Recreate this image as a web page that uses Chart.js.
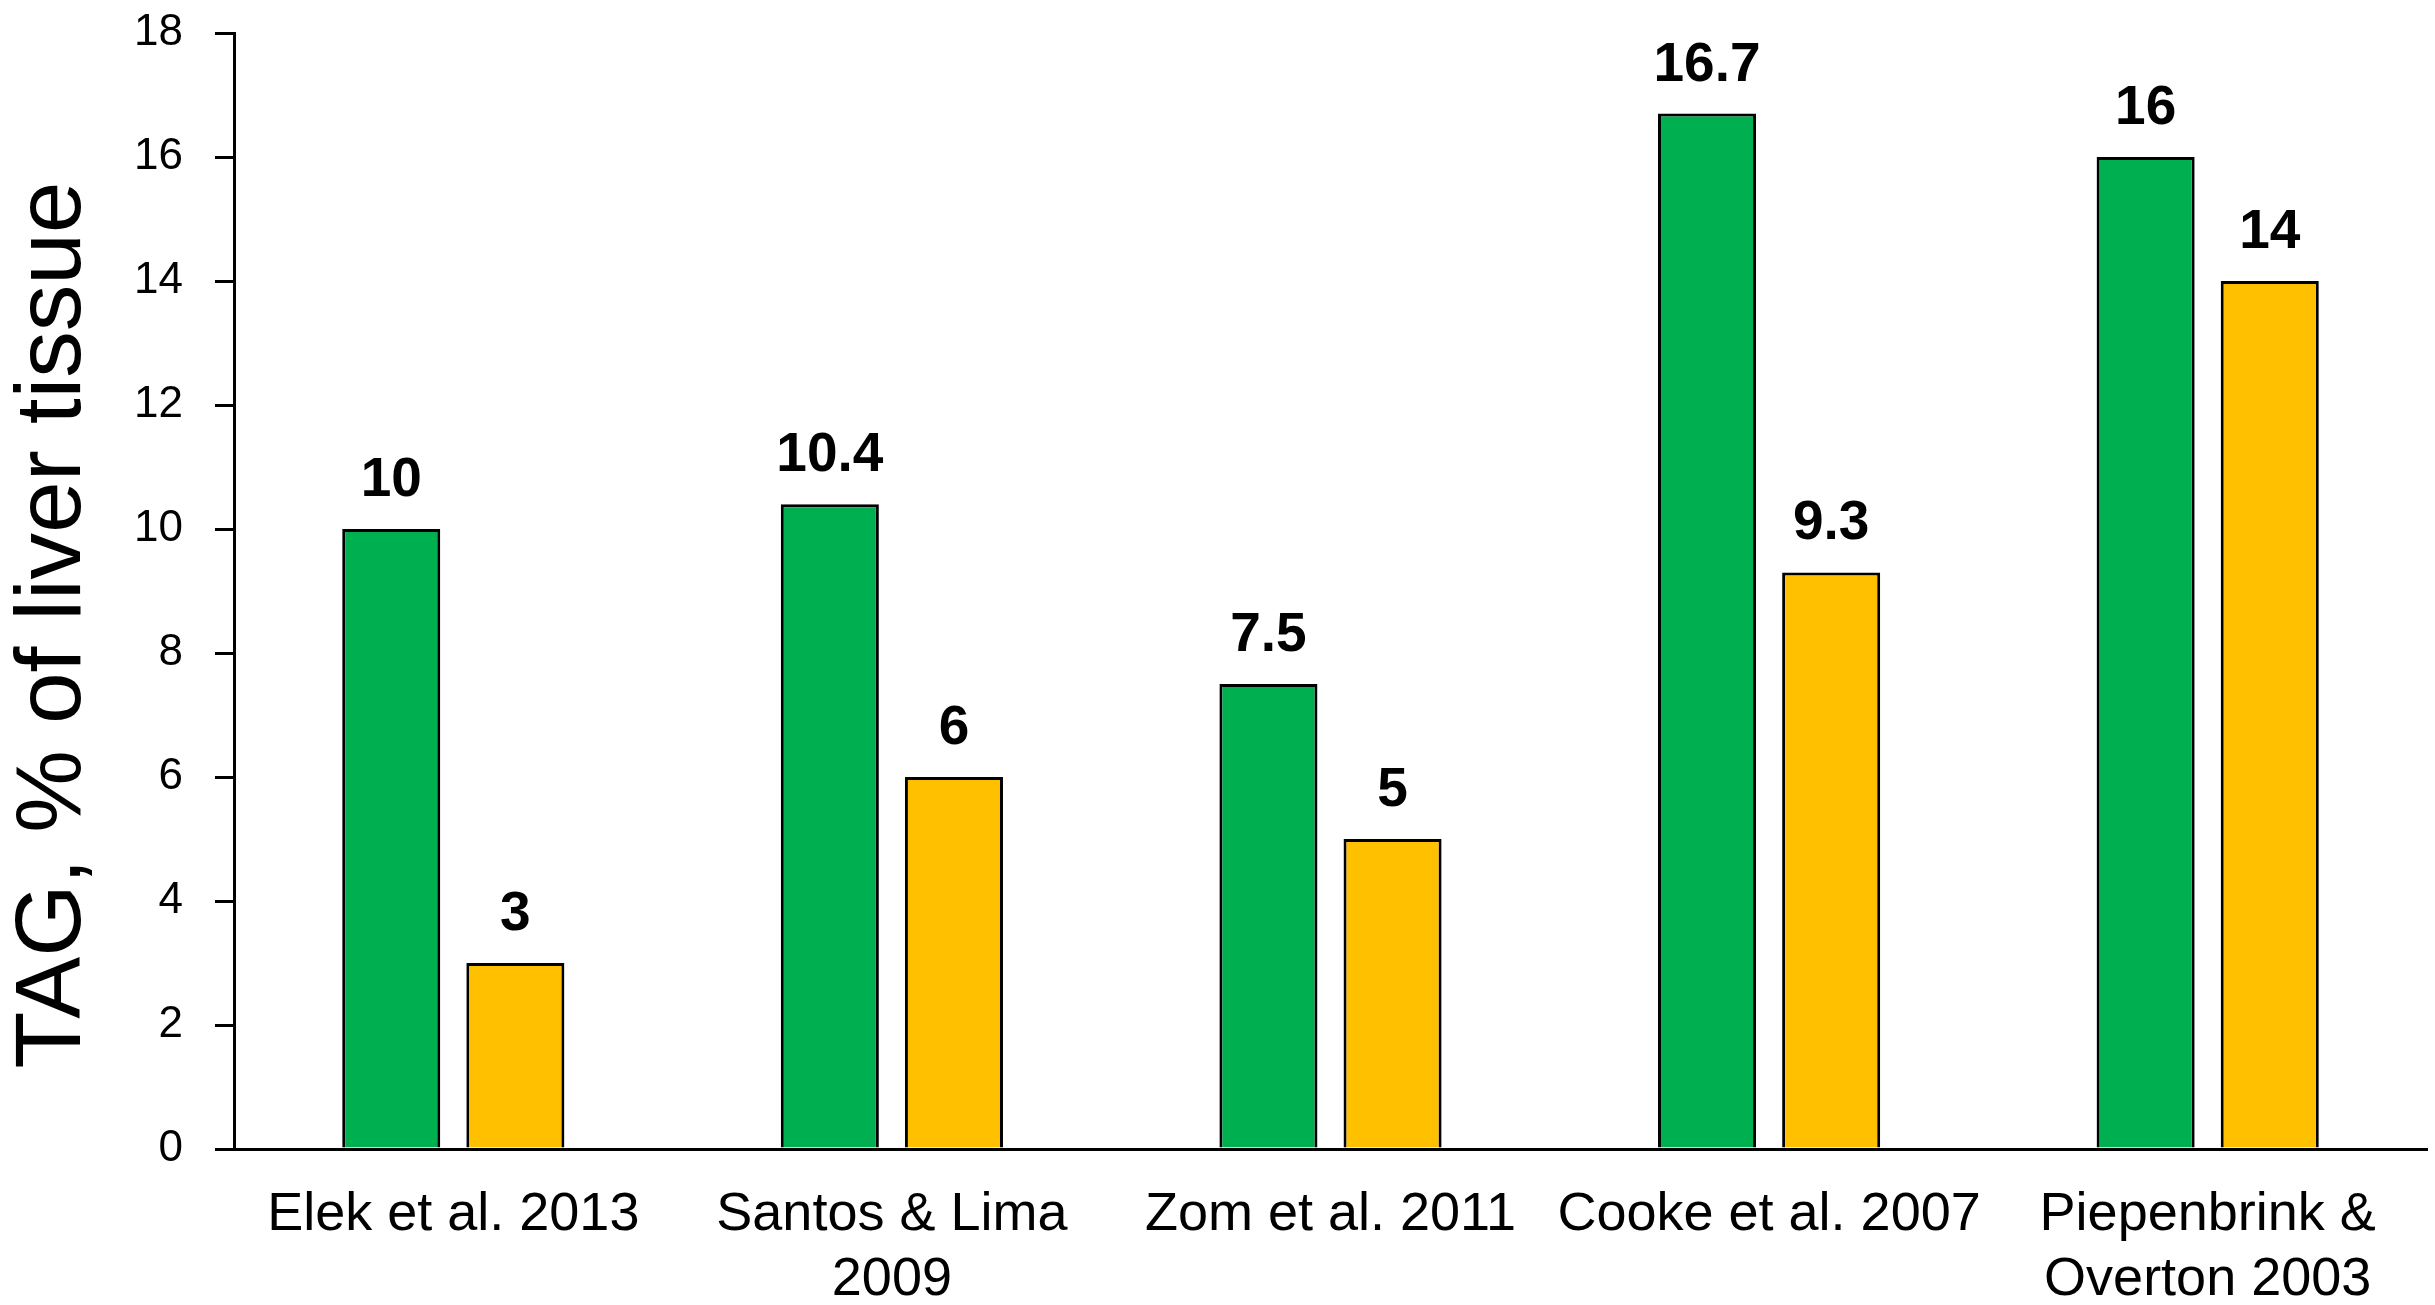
<!DOCTYPE html>
<html>
<head>
<meta charset="utf-8">
<script src="https://cdn.jsdelivr.net/npm/chart.js@4/dist/chart.umd.min.js"></script>
<style>
  body { margin: 0; background: #fff; }
  #wrap { width: 2435px; height: 1305px; }
</style>
</head>
<body>
<div id="wrap"><canvas id="tagChart" width="2435" height="1305"></canvas></div>
<script>
var studies = [
  ['Elek et al. 2013'],
  ['Santos & Lima', '2009'],
  ['Zom et al. 2011'],
  ['Cooke et al. 2007'],
  ['Piepenbrink &', 'Overton 2003']
];
var greenValues = [10, 10.4, 7.5, 16.7, 16];
var orangeValues = [3, 6, 5, 9.3, 14];
var yTicks = [0, 2, 4, 6, 8, 10, 12, 14, 16, 18];
var yTitle = 'TAG, % of liver tissue';

var FONT = "'Liberation Sans', Arial, sans-serif";

// draws the value above each bar
var valueLabels = {
  id: 'valueLabels',
  afterDatasetsDraw: function (chart) {
    var ctx = chart.ctx;
    ctx.save();
    ctx.font = 'bold 55px ' + FONT;
    ctx.fillStyle = '#000';
    ctx.textAlign = 'center';
    ctx.textBaseline = 'alphabetic';
    chart.data.datasets.forEach(function (ds, di) {
      chart.getDatasetMeta(di).data.forEach(function (bar, i) {
        ctx.fillText(String(ds.data[i]), bar.x, bar.y - 33);
      });
    });
    ctx.restore();
  }
};

// y title, sits a bit below the middle of the axis like the original
var sideTitle = {
  id: 'sideTitle',
  afterDraw: function (chart) {
    var ctx = chart.ctx;
    var area = chart.chartArea;
    ctx.save();
    ctx.translate(chart.scales.y.left + 54, (area.top + area.bottom) / 2 + 34);
    ctx.rotate(-Math.PI / 2);
    ctx.font = '93px ' + FONT;
    ctx.fillStyle = '#000';
    ctx.textAlign = 'center';
    ctx.textBaseline = 'middle';
    ctx.fillText(yTitle, 0, 0);
    ctx.restore();
  }
};

var tagChart = new Chart(document.getElementById('tagChart'), {
  type: 'bar',
  data: {
    labels: studies,
    datasets: [{
      label: 'green',
      data: greenValues,
      backgroundColor: '#00B050',
      borderColor: '#000',
      borderWidth: 3,
      borderSkipped: 'bottom'
    }, {
      label: 'orange',
      data: orangeValues,
      backgroundColor: '#FFC000',
      borderColor: '#000',
      borderWidth: 3,
      borderSkipped: 'bottom'
    }]
  },
  options: {
    responsive: false,
    animation: false,
    devicePixelRatio: 1,
    layout: { padding: { top: 33, right: 8, left: 0, bottom: 0 } },
    datasets: {
      bar: { categoryPercentage: 0.566, barPercentage: 0.79 }
    },
    plugins: {
      legend: { display: false },
      tooltip: { enabled: false }
    },
    scales: {
      x: {
        grid: { display: false, drawTicks: false },
        border: { display: true, color: '#000', width: 3 },
        ticks: {
          color: '#000',
          font: { family: FONT, size: 54, lineHeight: 1.2 },
          padding: 34,
          maxRotation: 0,
          autoSkip: false
        },
        afterFit: function (scale) { scale.height = 156; }
      },
      y: {
        min: 0,
        max: 18,
        afterBuildTicks: function (scale) {
          scale.ticks = yTicks.map(function (v) { return { value: v }; });
        },
        grid: {
          drawOnChartArea: false,
          drawTicks: true,
          tickLength: 19,
          color: '#000',
          lineWidth: 3
        },
        border: { display: true, color: '#000', width: 3 },
        ticks: {
          color: '#000',
          font: { family: FONT, size: 44 },
          padding: 32
        },
        afterFit: function (scale) {
          scale.width = 234;
          scale.paddingTop = 0;
          scale.paddingBottom = 0;
        }
      }
    }
  },
  plugins: [valueLabels, sideTitle]
});
</script>
</body>
</html>
